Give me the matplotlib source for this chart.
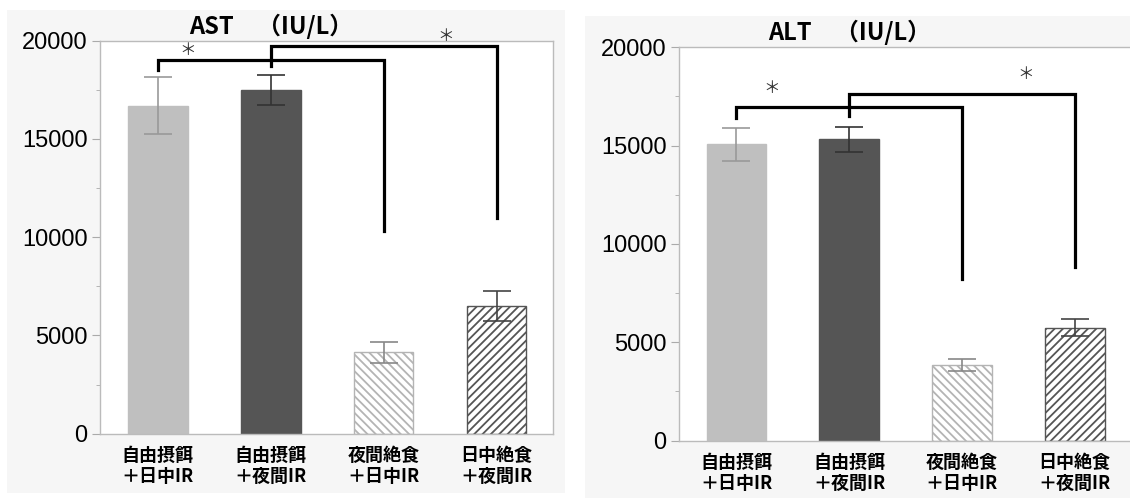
import matplotlib.pyplot as plt
from matplotlib.patches import Rectangle
from matplotlib.ticker import MultipleLocator

plt.rcParams['font.family'] = ['Noto Sans CJK JP', 'DejaVu Sans']
plt.rcParams['hatch.linewidth'] = 1.3

categories = ['自由摂餌\n＋日中IR', '自由摂餌\n＋夜間IR', '夜間絶食\n＋日中IR', '日中絶食\n＋夜間IR']

ast_mean = [16700, 17500, 4150, 6500]
ast_err = [1430, 770, 530, 740]
alt_mean = [15080, 15320, 3840, 5740]
alt_err = [840, 640, 300, 425]

# (from bar, to bar, left foot, top, right foot)
ast_brackets = [(0, 2, 18500, 19020, 10310), (1, 3, 18710, 19750, 10990)]
alt_brackets = [(0, 2, 16390, 16980, 8200), (1, 3, 16510, 17610, 8810)]
# star (x, y centre)
ast_stars = [(0.27, 19525), (2.55, 20236)]
alt_stars = [(0.31, 17915), (2.57, 18627)]

face_colors = ['#bfbfbf', '#555555', 'white', 'white']
edge_colors = ['#bfbfbf', '#555555', '#b4b4b4', '#555555']
hatches = [None, None, '\\\\\\\\', '////']
err_colors = ['#999999', '#333333', '#888888', '#444444']

W, H = 1130, 499
fig = plt.figure(figsize=(W / 100, H / 100), dpi=100)

# grey panel backgrounds
for x0, y0, x1, y1 in [(7, 10, 565, 493), (585, 16, 1130, 498)]:
    fig.patches.append(Rectangle((x0 / W, 1 - y1 / H), (x1 - x0) / W, (y1 - y0) / H,
                                 transform=fig.transFigure, facecolor='#f6f6f6',
                                 edgecolor='none', zorder=-10))


def draw(rect, title, means, errs, brackets, stars):
    ax = fig.add_axes(rect)
    ax.set_facecolor('white')
    xs = range(len(means))
    bars = ax.bar(xs, means, width=0.53, color=face_colors, edgecolor=edge_colors, linewidth=1)
    for b, h in zip(bars, hatches):
        if h:
            b.set_hatch(h)
    for i in xs:
        ax.errorbar(i, means[i], yerr=errs[i], fmt='none', ecolor=err_colors[i],
                    elinewidth=1.2, capsize=10, capthick=1.2)

    for a, b, y0, ytop, y1 in brackets:
        ax.plot([a, a, b, b], [y0, ytop, ytop, y1], color='black', lw=2.3,
                solid_joinstyle='miter', clip_on=False, zorder=5)
    for sx, sy in stars:
        ax.text(sx, sy, '＊', ha='center', va='center', fontsize=12, color='#333333')

    ax.set_xlim(-0.51, 3.5)
    ax.set_ylim(0, 20000)
    ax.set_yticks([0, 5000, 10000, 15000, 20000])
    ax.yaxis.set_minor_locator(MultipleLocator(2500))
    ax.tick_params(axis='y', which='major', length=6, color='#aaaaaa', labelsize=17, pad=3)
    ax.tick_params(axis='y', which='minor', length=3, color='#aaaaaa')
    for lab in ax.get_yticklabels():
        lab.set_family(['Liberation Sans Narrow', 'Liberation Sans'])
    ax.set_xticks(list(xs))
    ax.set_xticklabels(categories, fontsize=13, fontweight='bold', linespacing=1.1)
    ax.tick_params(axis='x', length=0, pad=9)
    for s in ax.spines.values():
        s.set_color('#bbbbbb')
        s.set_linewidth(1)

    ax.text(1, 1.018, title, transform=ax.get_xaxis_transform(), ha='center',
            va='baseline', fontsize=17, fontweight='bold')
    return ax


draw([100 / W, 1 - 433.7 / H, 453 / W, 393 / H], 'AST　（IU/L）',
     ast_mean, ast_err, ast_brackets, ast_stars)
draw([679 / W, 1 - 440.6 / H, 452 / W, 393.3 / H], 'ALT　（IU/L）',
     alt_mean, alt_err, alt_brackets, alt_stars)

fig.savefig('out.png', dpi=100)
